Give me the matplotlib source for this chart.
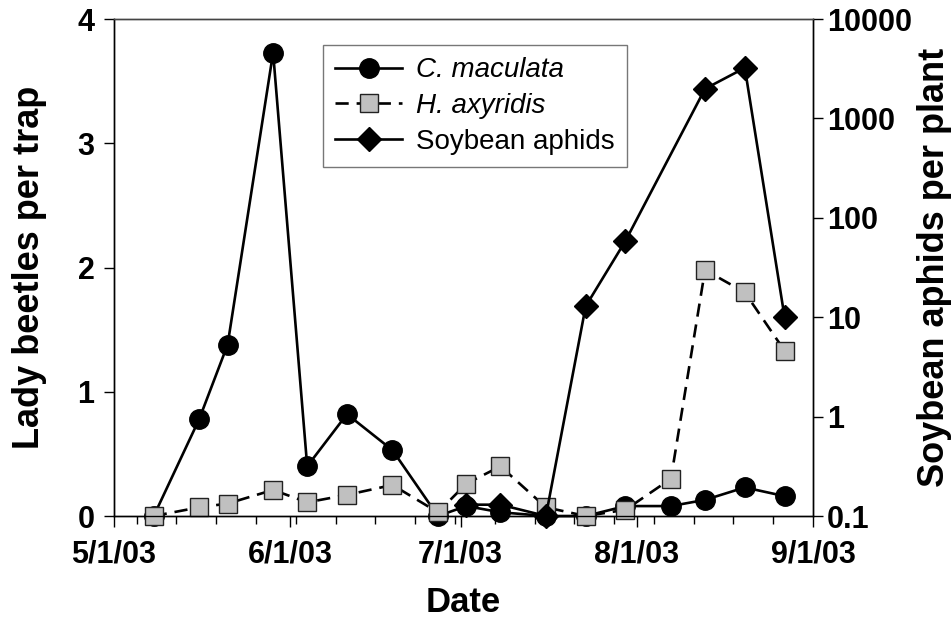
import datetime as dt
import numpy as np
import matplotlib
matplotlib.use("Agg")
import matplotlib.pyplot as plt
import matplotlib.dates as mdates
from matplotlib.ticker import FixedLocator, FixedFormatter

plt.rcParams['font.family'] = ['Liberation Sans', 'DejaVu Sans']

# sampling dates (2003)
dates = ["2003-05-08", "2003-05-16", "2003-05-21", "2003-05-29", "2003-06-04",
         "2003-06-11", "2003-06-19", "2003-06-27", "2003-07-02", "2003-07-08",
         "2003-07-16", "2003-07-23", "2003-07-30", "2003-08-07", "2003-08-13",
         "2003-08-20", "2003-08-27"]

c_maculata = [0.0, 0.78, 1.38, 3.73, 0.40, 0.82, 0.53, 0.0, 0.08, 0.03,
              0.0, 0.0, 0.08, 0.08, 0.13, 0.23, 0.16]
h_axyridis = [0.0, 0.07, 0.10, 0.21, 0.11, 0.17, 0.25, 0.03, 0.26, 0.40,
              0.07, 0.0, 0.05, 0.30, 1.98, 1.80, 1.33]

aphid_dates = ["2003-07-02", "2003-07-08", "2003-07-16", "2003-07-23",
               "2003-07-30", "2003-08-13", "2003-08-20", "2003-08-27"]
aphids = [0.13, 0.13, 0.1, 12.9, 58.6, 1986, 3226, 10]

month_ticks = ["2003-05-01", "2003-06-01", "2003-07-01", "2003-08-01", "2003-09-01"]
month_labels = ["5/1/03", "6/1/03", "7/1/03", "8/1/03", "9/1/03"]
right_ticks = [0.1, 1, 10, 100, 1000, 10000]
right_labels = ["0.1", "1", "10", "100", "1000", "10000"]


def to_dt(lst):
    return [dt.datetime.strptime(s, "%Y-%m-%d") for s in lst]


x = to_dt(dates)
xa = to_dt(aphid_dates)

fig = plt.figure(figsize=(9.53, 6.26), dpi=100)
ax = fig.add_axes([0.1196, 0.1757, 0.7335, 0.7939])
ax2 = ax.twinx()

l1, = ax.plot(x, c_maculata, color="black", lw=1.9, marker="o", ms=14,
              mfc="black", mec="black", clip_on=False, zorder=3,
              label="C. maculata")
l2, = ax.plot(x, h_axyridis, color="black", lw=1.9, ls=(0, (5, 3)), marker="s",
              ms=12.5, mfc="#c0c0c0", mec="#222222", mew=1.0, clip_on=False,
              zorder=4, label="H. axyridis")
l3, = ax2.plot(xa, aphids, color="black", lw=1.9, marker="D", ms=12.5,
               mfc="black", mec="black", clip_on=False, zorder=3,
               label="Soybean aphids")

ax.set_xlim(dt.datetime(2003, 5, 1), dt.datetime(2003, 9, 1))
ax.set_ylim(0, 4)
ax2.set_yscale("log")
ax2.set_ylim(0.1, 10000)

ax.xaxis.set_major_locator(FixedLocator(mdates.date2num(to_dt(month_ticks))))
ax.xaxis.set_major_formatter(FixedFormatter(month_labels))
ax.xaxis.set_minor_locator(mdates.WeekdayLocator(byweekday=mdates.MO))
ax.set_yticks([0, 1, 2, 3, 4])
ax.set_yticklabels(["0", "1", "2", "3", "4"])

ax2.yaxis.set_major_locator(FixedLocator(right_ticks))
ax2.yaxis.set_major_formatter(FixedFormatter(right_labels))
ax2.yaxis.set_minor_locator(FixedLocator([]))

for a in (ax, ax2):
    for s in a.spines.values():
        s.set_linewidth(1.0)
ax.spines["top"].set_color("#444444")
ax2.spines["top"].set_color("#444444")

ax.tick_params(axis="x", which="major", direction="out", length=8, width=1,
               pad=9, labelsize=22)
ax.tick_params(axis="x", which="minor", direction="out", length=6, width=1)
ax.tick_params(axis="y", direction="out", length=7, width=1, pad=7, labelsize=22)
ax2.tick_params(axis="y", direction="out", length=7, width=1, pad=3, labelsize=22)
for lab in ax.get_xticklabels() + ax.get_yticklabels() + ax2.get_yticklabels():
    lab.set_fontweight("bold")

ax.set_xlabel("Date", fontsize=25, fontweight="bold", labelpad=12)
ax.set_ylabel("Lady beetles per trap", fontsize=26, fontweight="bold", labelpad=22)
ax2.set_ylabel("Soybean aphids per plant", fontsize=26, fontweight="bold",
               labelpad=4)

leg = ax2.legend(handles=[l1, l2, l3], loc="upper left",
                 bbox_to_anchor=(0.299, 0.948), frameon=True, fancybox=False,
                 edgecolor="#555555", fontsize=20, handlelength=2.4,
                 borderpad=0.45, labelspacing=0.35, handletextpad=0.5,
                 borderaxespad=0)
leg.get_frame().set_linewidth(1.0)
leg.texts[0].set_fontstyle("italic")
leg.texts[1].set_fontstyle("italic")

fig.savefig("out.png", dpi=100)
